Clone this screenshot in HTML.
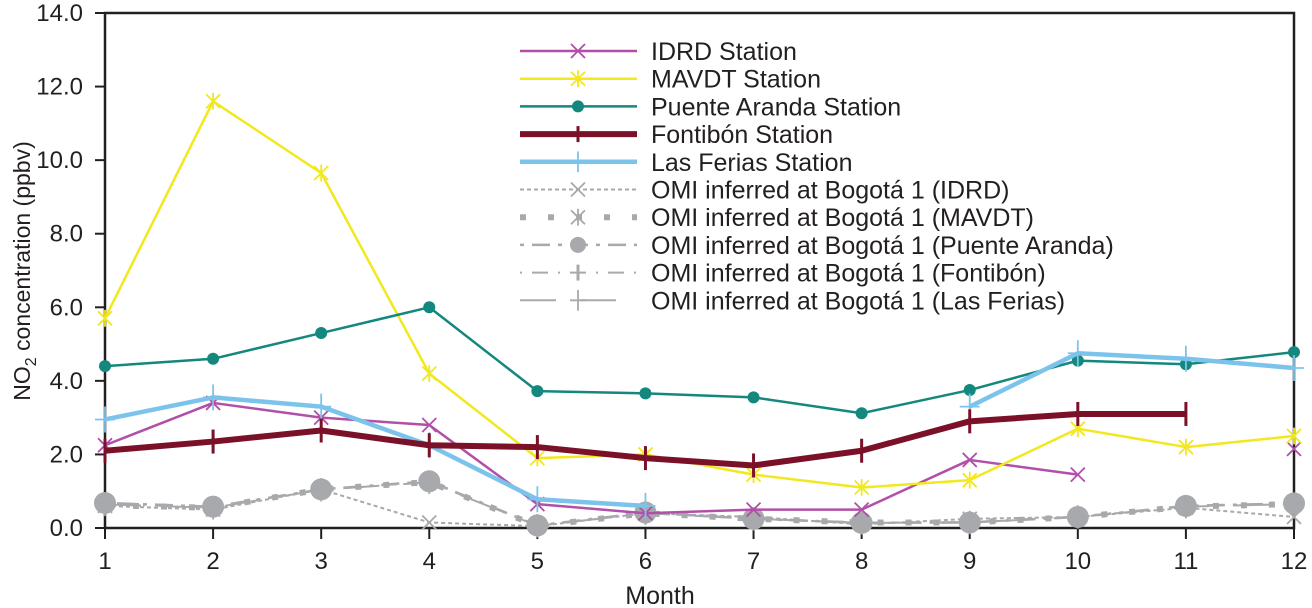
<!DOCTYPE html>
<html><head><meta charset="utf-8"><style>
body{margin:0;background:#fff}
svg{display:block;font-family:"Liberation Sans",sans-serif}
</style></head><body>
<svg id="c" width="1312" height="608" viewBox="0 0 1312 608"></svg>
<script>
const months=[1,2,3,4,5,6,7,8,9,10,11,12];
const yTicks=[0,2,4,6,8,10,12,14];
const idrd=[2.25,3.4,3.0,2.8,0.65,0.4,0.5,0.5,1.85,1.45,null,2.15];
const mavdt=[5.7,11.6,9.65,4.2,1.9,2.0,1.45,1.1,1.3,2.7,2.2,2.5];
const puente=[4.4,4.6,5.3,6.0,3.72,3.66,3.55,3.12,3.75,4.55,4.45,4.78];
const fontibon=[2.1,2.35,2.65,2.25,2.2,1.9,1.7,2.1,2.9,3.1,3.1,null];
const ferias=[2.95,3.55,3.3,2.25,0.78,0.6,null,null,3.3,4.75,4.6,4.35];
const omiIdrd=[0.6,0.5,1.05,0.15,0.05,0.4,0.3,0.1,0.25,0.3,0.55,0.3];
const omiMavdt=[0.62,0.55,1.05,1.25,0.05,0.4,0.25,0.15,0.15,0.3,0.58,0.65];
const omiPuente=[0.68,0.58,1.05,1.27,0.07,0.42,0.25,0.14,0.15,0.3,0.6,0.67];
const omiFontibon=[0.65,0.56,1.05,1.25,0.06,0.41,0.26,0.15,0.16,0.31,0.59,0.66];
const omiFerias=[0.64,0.55,1.04,1.24,0.06,0.4,0.25,0.14,0.15,0.3,0.58,0.65];
const labels=["IDRD Station","MAVDT  Station","Puente Aranda Station","Fontibón Station","Las Ferias Station","OMI inferred at  Bogotá 1 (IDRD)","OMI inferred at  Bogotá 1 (MAVDT)","OMI inferred at  Bogotá 1 (Puente Aranda)","OMI inferred at  Bogotá 1 (Fontibón)","OMI inferred at  Bogotá 1 (Las Ferias)"];

const NS="http://www.w3.org/2000/svg",svg=document.getElementById('c');
const X0=105,X1=1294,Y0=528,Y1=13;
const xs=m=>X0+(m-1)*(X1-X0)/11, ys=v=>Y0-v*(Y0-Y1)/14;
function el(t,a,p){const e=document.createElementNS(NS,t);for(const k in a)e.setAttribute(k,a[k]);(p||svg).appendChild(e);return e;}
const G='#a7a9ac';
const series=[
 {d:omiIdrd,c:G,w:2,dash:'4 3',m:'x',ms:7},
 {d:omiMavdt,c:G,w:6,dash:'6 22',m:'star',ms:7},
 {d:omiPuente,c:G,w:2.5,dash:'4 8 18 8',m:'dot',ms:11},
 {d:omiFontibon,c:G,w:2,dash:'2 10 16 10',m:'vbar',ms:10},
 {d:omiFerias,c:G,w:2,dash:'36 24',m:'plus',ms:9},
 {d:idrd,c:'#b24fa8',w:2.5,m:'x',ms:7},
 {d:mavdt,c:'#f2e81e',w:2.5,m:'star',ms:7},
 {d:puente,c:'#14877f',w:2.5,m:'dot',ms:6},
 {d:ferias,c:'#7cc3ec',w:4.5,m:'plus',ms:10},
 {d:fontibon,c:'#7b1128',w:6,m:'vbar',ms:12},
];
function marker(g,type,x,y,s,c){
 if(type==='x'){el('path',{d:`M${x-s} ${y-s}L${x+s} ${y+s}M${x-s} ${y+s}L${x+s} ${y-s}`,stroke:c,'stroke-width':1.8,fill:'none'},g);}
 else if(type==='star'){el('path',{d:`M${x-s} ${y-s}L${x+s} ${y+s}M${x-s} ${y+s}L${x+s} ${y-s}M${x} ${y-s*1.2}L${x} ${y+s*1.2}`,stroke:c,'stroke-width':1.8,fill:'none'},g);}
 else if(type==='dot'){el('circle',{cx:x,cy:y,r:s,fill:c},g);}
 else if(type==='vbar'){el('path',{d:`M${x} ${y-s}L${x} ${y+s}`,stroke:c,'stroke-width':3,fill:'none'},g);}
 else if(type==='plus'){el('path',{d:`M${x-s} ${y}L${x+s} ${y}M${x} ${y-s*1.3}L${x} ${y+s*1.3}`,stroke:c,'stroke-width':1.8,fill:'none'},g);}
}
// axes
const ax=el('g',{});
el('rect',{x:X0,y:Y1,width:X1-X0,height:Y0-Y1,stroke:'#231f20','stroke-width':2.5,fill:'none'},ax);
yTicks.forEach(v=>{const y=ys(v);
 el('line',{x1:X0-10,x2:X0,y1:y,y2:y,stroke:'#231f20','stroke-width':2},ax);
 const t=el('text',{x:X0-22,y:y+8,'text-anchor':'end','font-size':24,fill:'#231f20'},ax);t.textContent=v.toFixed(1);
 });
months.forEach(m=>{const x=xs(m);
 el('line',{x1:x,x2:x,y1:Y0,y2:Y0+11,stroke:'#231f20','stroke-width':2},ax);
 const t=el('text',{x:x,y:Y0+41,'text-anchor':'middle','font-size':24,fill:'#231f20'},ax);t.textContent=m;
 });
const xt=el('text',{x:660,y:604,'text-anchor':'middle','font-size':25,fill:'#231f20',});xt.textContent='Month';
const yt=el('text',{x:0,y:0,transform:'translate(30,271) rotate(-90)','text-anchor':'middle','font-size':23,fill:'#231f20',});
yt.innerHTML='NO<tspan font-size="16" dy="6">2</tspan><tspan dy="-6"> concentration (ppbv)</tspan>';
// series
series.forEach((s,i)=>{
 const g=el('g',{});
 let d='',pen=false;
 s.d.forEach((v,j)=>{if(v==null){pen=false;return;}d+=(pen?'L':'M')+xs(months[j])+' '+ys(v);pen=true;});
 const a={d:d,stroke:s.c,'stroke-width':s.w,fill:'none','stroke-linejoin':'round'};if(s.dash)a['stroke-dasharray']=s.dash;
 el('path',a,g);
 s.d.forEach((v,j)=>{if(v!=null)marker(g,s.m,xs(months[j]),ys(v),s.ms,s.c);});
});
// legend
const order=[5,6,7,9,8,0,1,2,3,4];
const lg=el('g',{});
order.forEach((si,k)=>{const s=series[si];const y=51+k*27.7;
 const e=el('g',{},lg);
 const a={x1:520,x2:637,y1:y,y2:y,stroke:s.c,'stroke-width':s.w};if(s.dash)a['stroke-dasharray']=s.dash;
 el('line',a,e);marker(e,s.m,578,y,Math.min(s.ms,8),s.c);
 const t=el('text',{x:651,y:y+9,'font-size':25,fill:'#231f20'},e);t.textContent=labels[k];});
</script>
</body></html>
